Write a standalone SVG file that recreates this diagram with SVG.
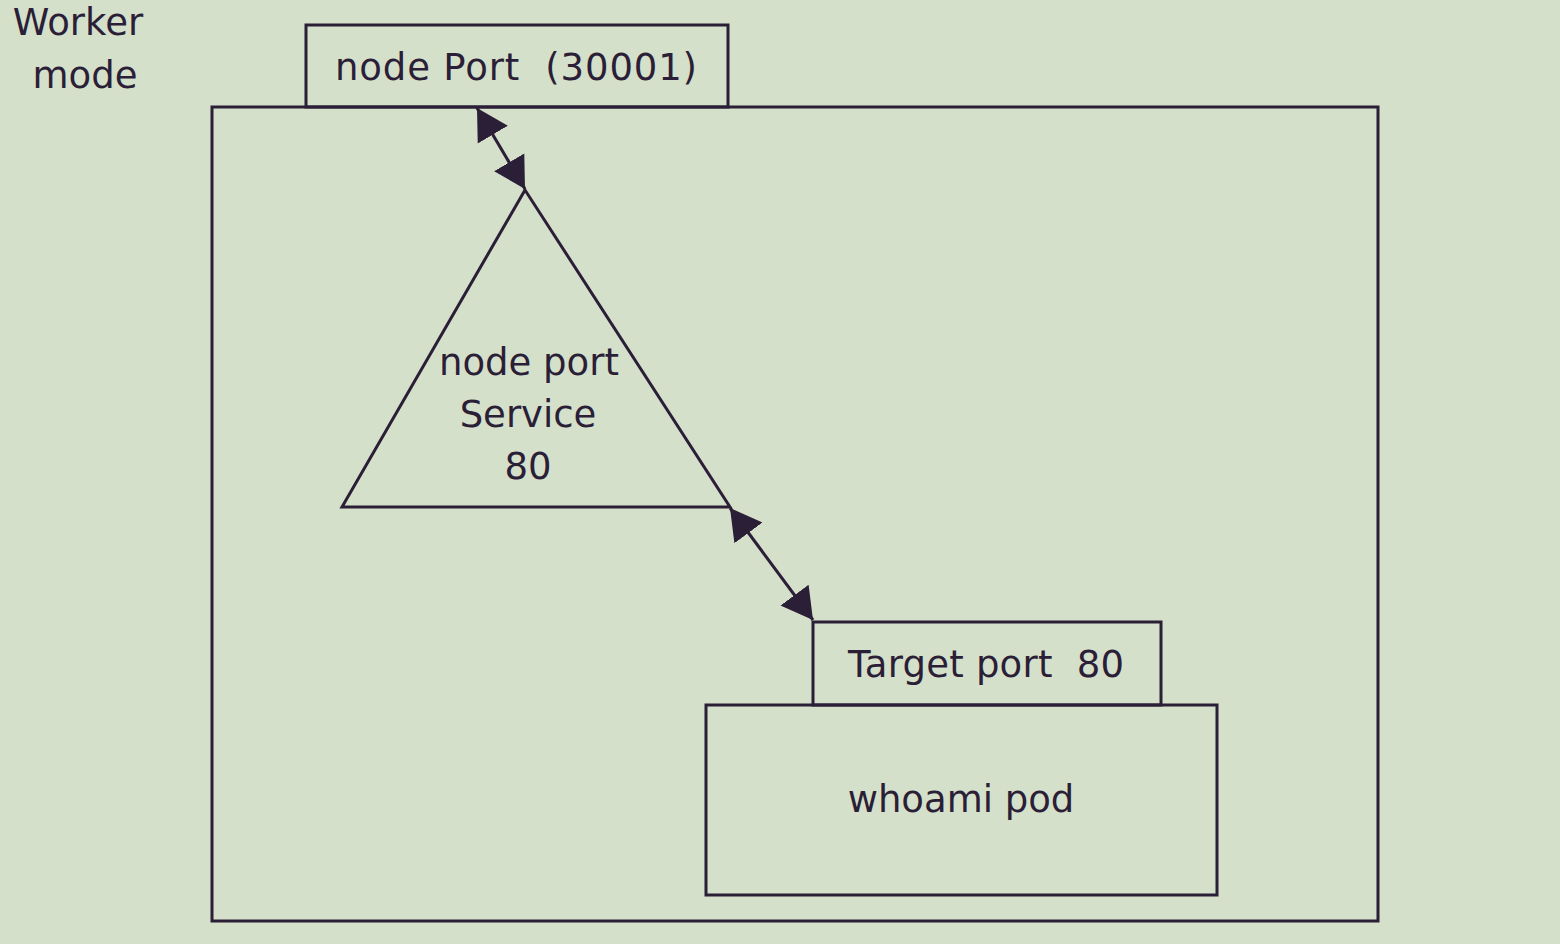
<svg xmlns="http://www.w3.org/2000/svg" width="1560" height="944" viewBox="0 0 1560 944">
<style>
.box{fill:none;stroke:#2b1e37;stroke-width:3}
.t{font-family:"DejaVu Sans","Liberation Sans",sans-serif;font-size:37px;fill:#2b1e37;text-anchor:middle}
.c{stroke:#2b1e37;stroke-width:3;fill:none}
</style>
<defs>
<marker id="ah" markerUnits="userSpaceOnUse" markerWidth="34" markerHeight="38" viewBox="0 -19 34 38" refX="31" refY="0" orient="auto-start-reverse">
<path d="M0,-17.5 L31,0 L0,17.5 Z" fill="#2b1e37"/>
</marker>
</defs>
<rect width="1560" height="944" fill="#d5e0ca"/>
<g id="worker-label">
<text class="t" x="78" y="35">Worker</text>
<text class="t" x="85" y="88">mode</text>
</g>
<g id="worker-node">
<rect class="box" x="212" y="107" width="1166" height="814"/>
</g>
<g id="node-port">
<rect class="box" x="306" y="25" width="422" height="82"/>
<text class="t" x="516" y="80" xml:space="preserve" textLength="362" lengthAdjust="spacing">node Port  (30001)</text>
</g>
<g id="service">
<polygon class="box" points="525,190 342,507 730,507"/>
<text class="t" x="529" y="375">node port</text>
<text class="t" x="528" y="427">Service</text>
<text class="t" x="528" y="479">80</text>
</g>
<g id="target-port">
<rect class="box" x="813" y="622" width="348" height="83"/>
<text class="t" x="986" y="677" xml:space="preserve" textLength="276" lengthAdjust="spacing">Target port  80</text>
</g>
<g id="whoami-pod">
<rect class="box" x="706" y="705" width="511" height="190"/>
<text class="t" x="961" y="812">whoami pod</text>
</g>
<g id="connectors">
<line class="c" x1="477" y1="108" x2="525" y2="189" marker-start="url(#ah)" marker-end="url(#ah)"/>
<line class="c" x1="730" y1="508" x2="813" y2="620" marker-start="url(#ah)" marker-end="url(#ah)"/>
</g>
</svg>
